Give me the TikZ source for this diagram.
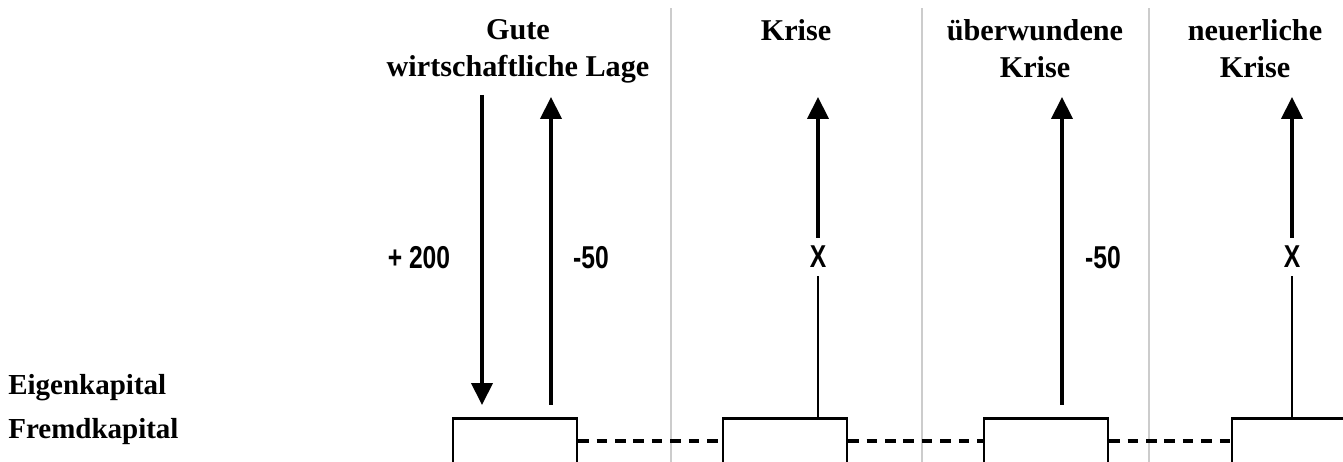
\documentclass[tikz,border=0pt]{standalone}
\usepackage{fontspec}
\setmainfont{Liberation Serif}
\newfontfamily\zahlfont{Liberation Sans}
\usetikzlibrary{arrows.meta}

\begin{document}
\begin{tikzpicture}
[x=0.02cm, y=0.02cm,
every node/.style={font=\bfseries\fontsize{17.2}{21}\selectfont,align=center,inner sep=0pt},
konto/.style={draw,line width=1.3pt,minimum width=2.48cm,minimum height=0.9cm},
pfeil/.style={line width=2.1pt,-{Triangle[length=12.5pt,width=12pt]}},
strich/.style={line width=1.1pt},
trenner/.style={black!20,line width=0.6pt},
verbindung/.style={dash pattern=on 6pt off 4.5pt,line width=1.8pt},
betrag/.style={font=\zahlfont\bfseries\fontsize{18}{20}\selectfont,xscale=0.78,inner xsep=2pt,inner ysep=4.5pt},
]
\useasboundingbox (0,0) rectangle (1343,462);
\clip (0,0) rectangle (1343,462);

% Spalten
\foreach \x in {671,922,1149} \draw[trenner] (\x,0) -- (\x,454);

\node[anchor=north] (lage) at (518,443) {Gute\\wirtschaftliche Lage};
\node[anchor=north] (krise) at (796,443) {Krise};
\node[anchor=north] (ueberwunden) at (1035,443) {überwundene\\Krise};
\node[anchor=north] (neuerlich) at (1255,443) {neuerliche\\Krise};

\node[anchor=base west,font=\bfseries\fontsize{16.5}{20}\selectfont] (ek) at (8,67) {Eigenkapital};
\node[anchor=base west,font=\bfseries\fontsize{16.5}{20}\selectfont] (fk) at (8,23) {Fremdkapital};

% Bilanzen
\node[konto] (b1) at (515,21) {};
\node[konto] (b2) at (785,21) {};
\node[konto] (b3) at (1046,21) {};
\node[konto] (b4) at (1294,21) {};
\draw[verbindung] (b1.east) -- (b2.west);
\draw[verbindung] (b2.east) -- (b3.west);
\draw[verbindung] (b3.east) -- (b4.west);

\node[betrag] (plus) at (419,204) {+ 200};
\node[betrag] (minus1) at (591,204) {-50};
\node[betrag] (x1) at (818,205) {X};
\node[betrag] (minus2) at (1103,204) {-50};
\node[betrag] (x2) at (1292,205) {X};

\coordinate (zu1) at (482,367); \coordinate (zu2) at (482,57);
\coordinate (ab1) at (551,57);  \coordinate (ab2) at (551,365);
\coordinate (k1) at (818,365);
\coordinate (ab3) at (1062,57); \coordinate (ab4) at (1062,365);
\coordinate (k2) at (1292,365);

% Veraenderungen
\draw[pfeil] (zu1) -- (zu2);
\draw[pfeil] (ab1) -- (ab2);
\draw[strich] (x1.south |- b2.north) -- (x1.south);
\draw[pfeil] (x1.north) -- (k1);
\draw[pfeil] (ab3) -- (ab4);
\draw[strich] (x2.south |- b4.north) -- (x2.south);
\draw[pfeil] (x2.north) -- (k2);
\end{tikzpicture}
\end{document}
